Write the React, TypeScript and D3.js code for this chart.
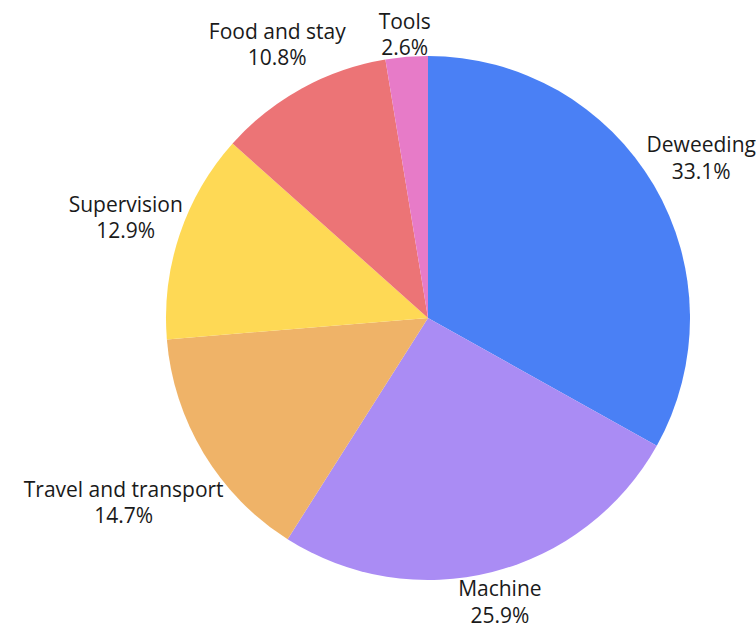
import * as React from 'react';
import * as d3 from 'd3';

const categories = ['Deweeding', 'Machine', 'Travel and transport', 'Supervision', 'Food and stay', 'Tools'];
const shares = [33.1, 25.9, 14.7, 12.9, 10.8, 2.6];
const colors = ['#4a80f5', '#aa8cf4', '#efb368', '#fed955', '#ec7476', '#e77bc8'];

const width = 756;
const height = 630;
const cx = 428;
const cy = 318;
const radius = 262;

export default function App() {
  const svgRef = React.useRef<SVGSVGElement>(null);

  React.useEffect(() => {
    const svg = d3.select(svgRef.current);
    svg.selectAll('*').remove();

    const data = categories.map((name, i) => ({ name, value: shares[i], color: colors[i] }));
    const pie = d3.pie<any>().value(d => d.value).sort(null);
    const arcs = pie(data);
    const arc = d3.arc<any>().innerRadius(0).outerRadius(radius);

    const g = svg.append('g').attr('transform', `translate(${cx},${cy})`);

    g.selectAll('.slice')
      .data(arcs)
      .enter()
      .append('path')
      .attr('class', 'slice')
      .attr('d', arc)
      .attr('fill', d => d.data.color);

    const labels = g.selectAll('.label')
      .data(arcs)
      .enter()
      .append('text')
      .attr('class', 'label')
      .attr('text-anchor', 'middle')
      .attr('font-family', '"Open Sans", sans-serif')
      .attr('font-size', 21)
      .attr('fill', '#1a1a1a');

    labels.append('tspan')
      .attr('x', 0)
      .attr('dy', '-0.3em')
      .text(d => d.data.name);
    labels.append('tspan')
      .attr('x', 0)
      .attr('dy', '1.25em')
      .text(d => `${d.data.value.toFixed(1)}%`);

    // push each label out along its mid angle so its box clears the rim
    labels.each(function (d: any) {
      const el = this as SVGTextElement;
      const box = el.getBBox();
      const a = (d.startAngle + d.endAngle) / 2;
      const s = Math.sin(a);
      const c = -Math.cos(a);
      const dist = radius - 6 + Math.abs(s) * box.width / 2 + Math.abs(c) * box.height / 2;
      const tx = s * dist;
      const ty = c * dist - (box.y + box.height / 2);
      d3.select(el).attr('transform', `translate(${tx},${ty})`);
    });
  }, []);

  return (
    <div style={{ position: 'absolute', left: 0, top: 0 }}>
      <svg ref={svgRef} width={width} height={height} style={{ display: 'block', background: '#fff' }} />
    </div>
  );
}
